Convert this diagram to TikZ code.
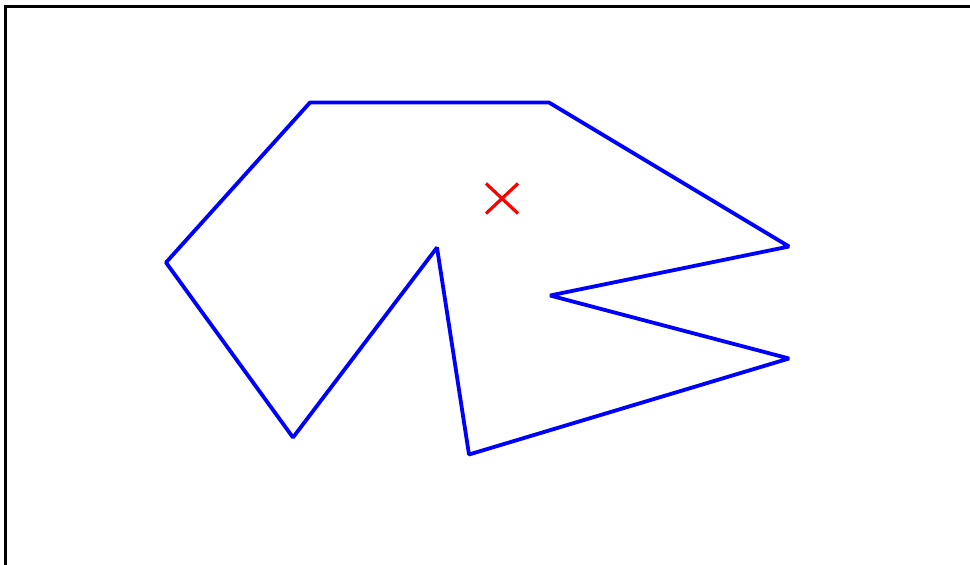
\documentclass[tikz,border=0pt]{standalone}
\usepackage{tikz}

\begin{document}
\begin{tikzpicture}[
  x=1pt,y=-1pt,
  frame/.style={draw=black,line width=3pt},
  outline/.style={draw=blue,line width=3.8pt,line join=bevel},
  cross/.style={draw=red,line width=3.2pt},
]
\useasboundingbox (0,0) rectangle (970,565);
% axes frame (cut off at right and bottom)
\draw[frame] (5.5,566) -- (5.5,6.5) -- (971,6.5);

% polygon vertices
\coordinate (p1) at (310,102.5);
\coordinate (p2) at (549,102.5);
\coordinate (p3) at (789,246.5);
\coordinate (p4) at (550,295.5);
\coordinate (p5) at (789,358.5);
\coordinate (p6) at (469,454.5);
\coordinate (p7) at (437,247.5);
\coordinate (p8) at (293,437.5);
\coordinate (p9) at (166,262.5);
\draw[outline] (p1) -- (p2) -- (p3) -- (p4) -- (p5) -- (p6) -- (p7) -- (p8) -- (p9) -- cycle;

% centroid marker
\coordinate (ctr) at (502,198.5);
\draw[cross] ([shift={(-16,-15)}]ctr) -- ([shift={(16,15)}]ctr);
\draw[cross] ([shift={(-16,15)}]ctr) -- ([shift={(16,-15)}]ctr);
\end{tikzpicture}
\end{document}
